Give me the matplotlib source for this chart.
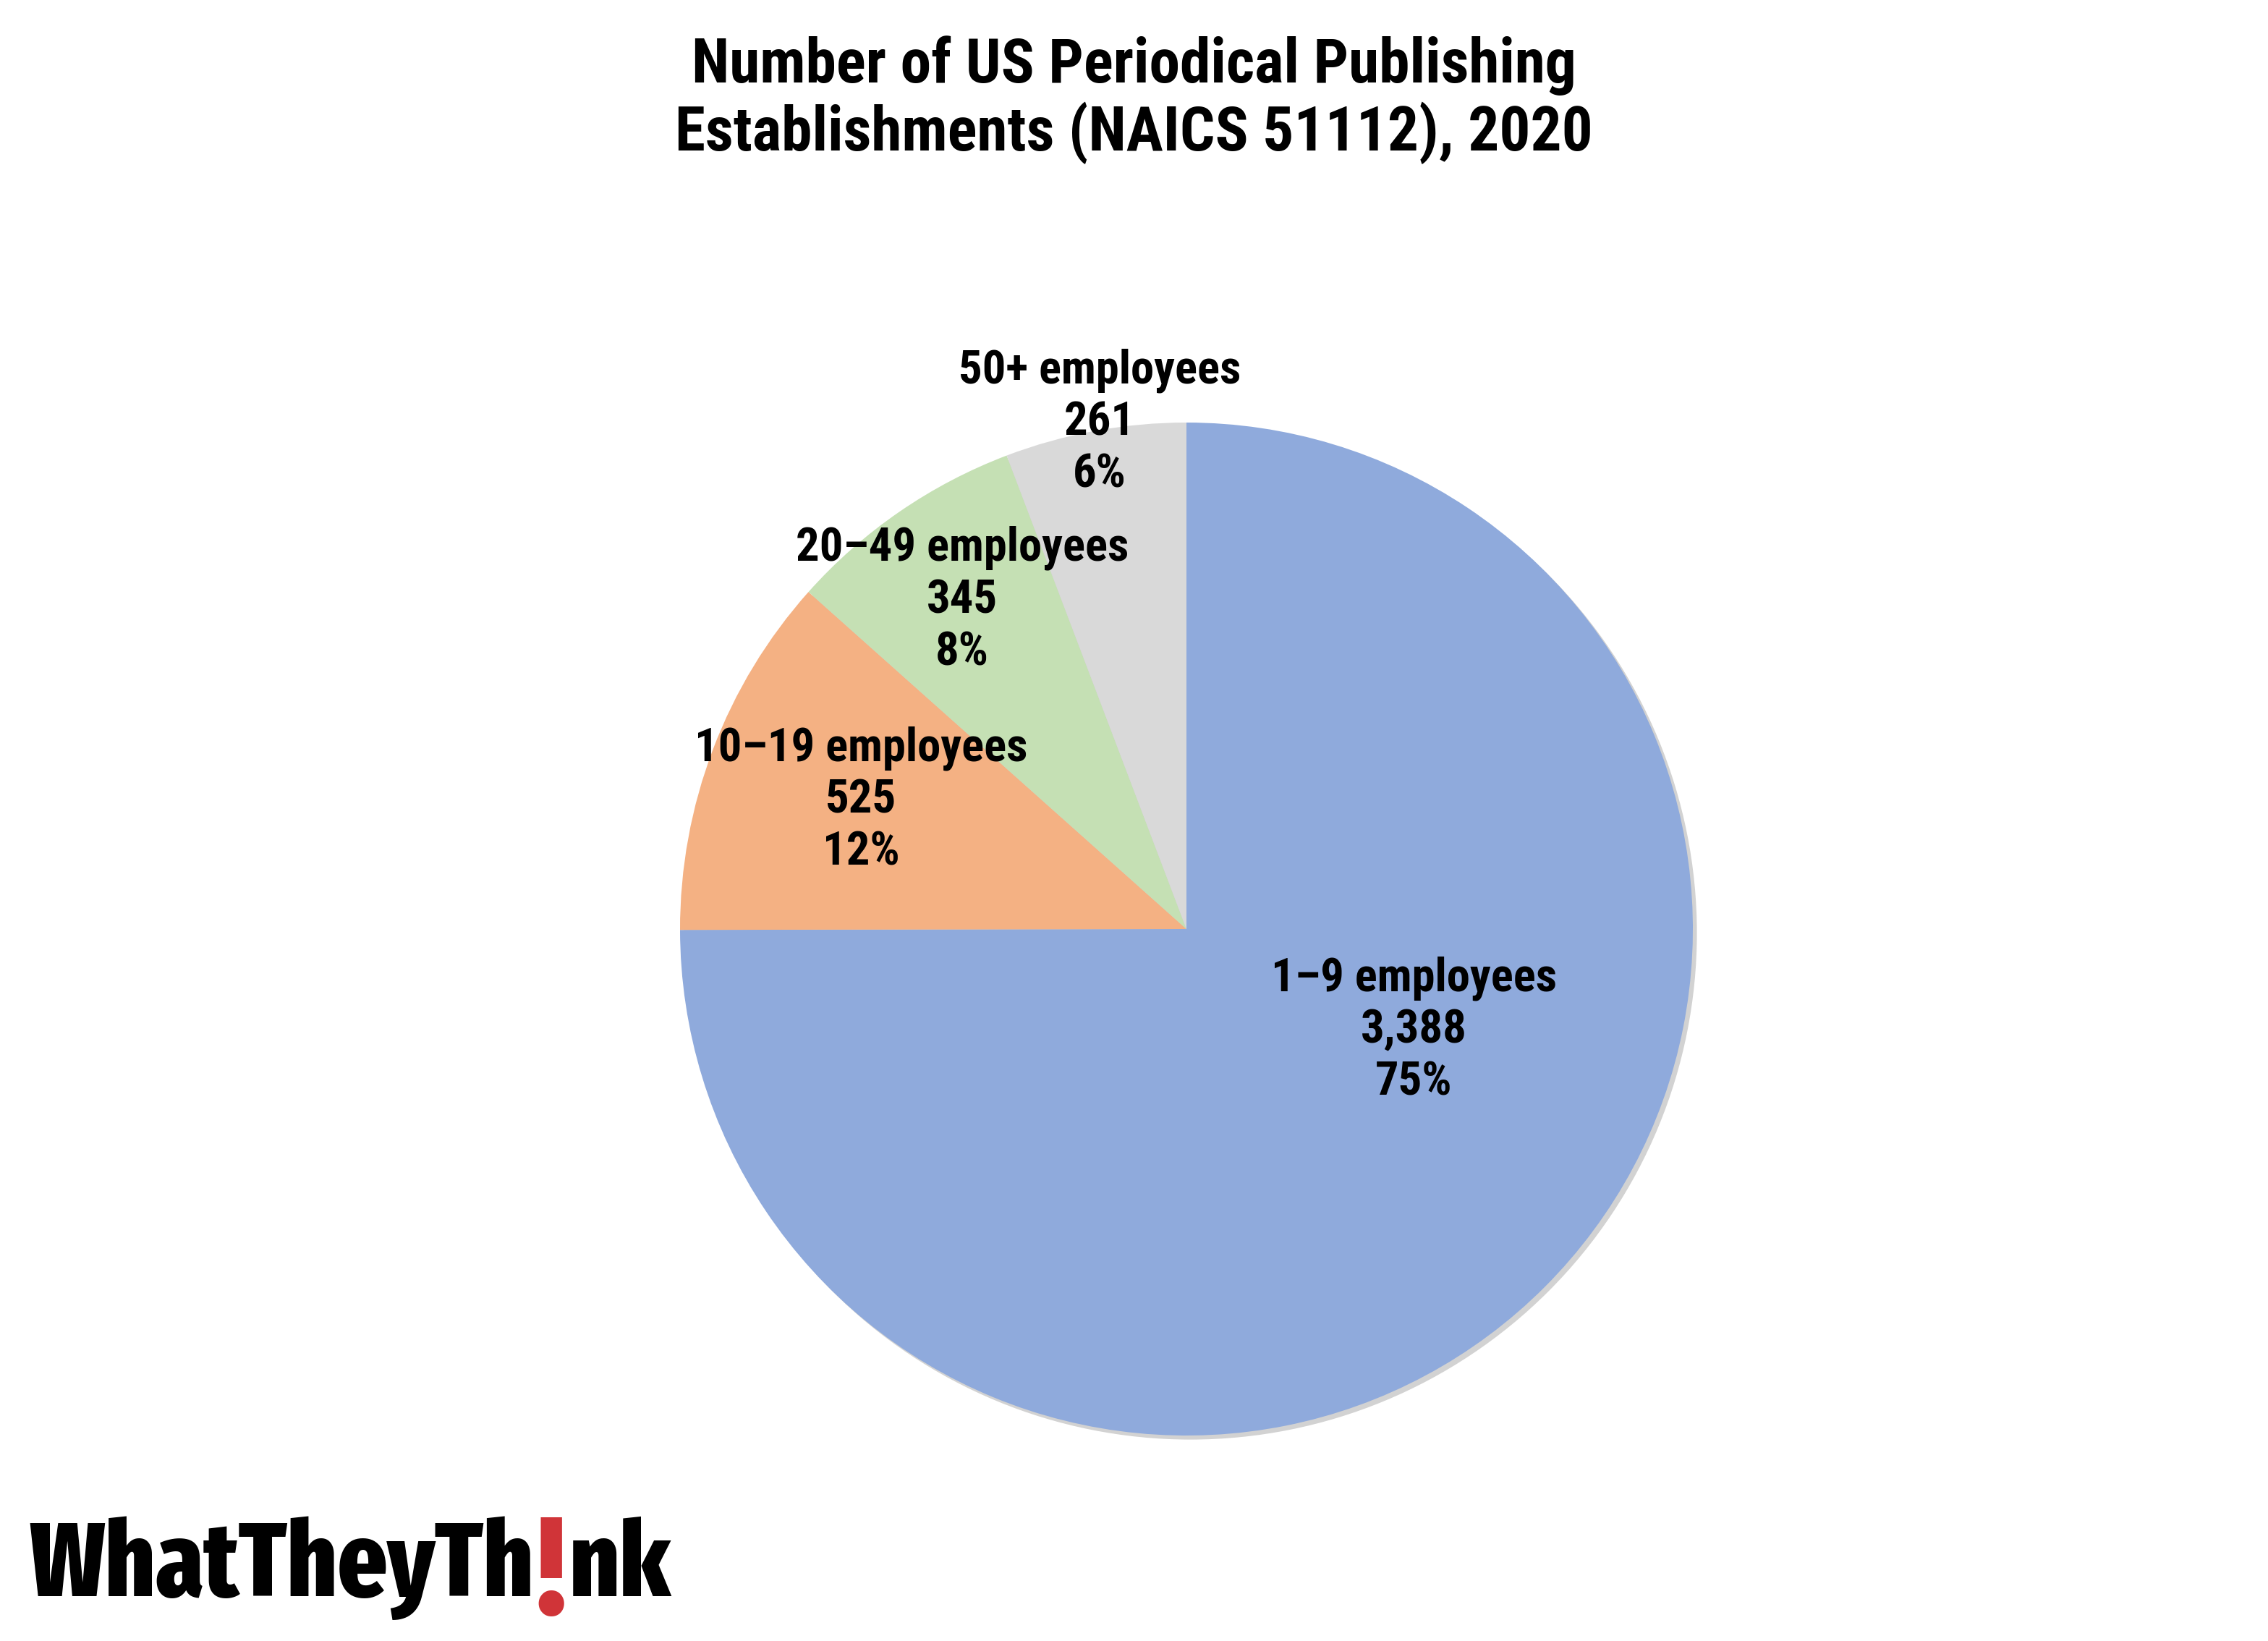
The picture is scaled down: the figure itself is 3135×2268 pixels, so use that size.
import matplotlib.pyplot as plt
from matplotlib.patches import Circle

# Data
categories = ['1\u20139 employees', '10\u201319 employees', '20\u201349 employees', '50+ employees']
counts = [3388, 525, 345, 261]
colors = ['#8FAADC', '#F4B183', '#C5E0B4', '#D9D9D9']

title = 'Number of US Periodical Publishing\nEstablishments (NAICS 51112), 2020'

plt.rcParams['font.family'] = ['Roboto Condensed', 'Liberation Sans', 'DejaVu Sans']
logo_font = ['Fira Sans Extra Condensed', 'Roboto Condensed', 'Liberation Sans', 'DejaVu Sans']

W, H = 3135, 2268
dpi = 300
fig = plt.figure(figsize=(W / dpi, H / dpi), dpi=dpi)

# pie axes: centre (1640, 1284) px, radius 700 px
cx, cy, r = 1640, 1284, 700
ax = fig.add_axes([(cx - r) / W, (H - cy - r) / H, 2 * r / W, 2 * r / H])

# soft shadow
ax.add_patch(Circle((0.008, -0.008), 1.0, color='#d2d2d2', zorder=0, lw=0, clip_on=False))
wedges, _ = ax.pie(counts, colors=colors, startangle=90, counterclock=False,
                   radius=1.0, wedgeprops=dict(linewidth=0))
for w in wedges:
    w.set_zorder(1)
    w.set_clip_on(False)
ax.set_xlim(-1, 1)
ax.set_ylim(-1, 1)
ax.set_aspect('equal')
ax.axis('off')

# label positions (data coords, pie radius = 1)
label_pos = [(0.449, -0.20), (-0.643, 0.254), (-0.443, 0.649), (-0.171, 1.0)]
total = sum(counts)
for cat, n, (lx, ly) in zip(categories, counts, label_pos):
    pct = round(100 * n / total)
    ax.text(lx, ly, f'{cat}\n{n:,}\n{pct}%', ha='center', va='center',
            fontsize=15.5, fontweight='bold', linespacing=1.23, zorder=3, clip_on=False)

# title
fig.text(0.5, 1 - 138 / H, title, ha='center', va='center', fontsize=20.5,
         fontweight='bold', linespacing=1.12)

# logo
fig.canvas.draw()
renderer = fig.canvas.get_renderer()
base_y = 1 - 2206 / H
t1 = fig.text(40 / W, base_y, 'WhatTheyTh', fontsize=35, fontweight=800, family=logo_font,
              ha='left', va='baseline', color='black')
bb = t1.get_window_extent(renderer)
t2 = fig.text(bb.x1 / W + 0.001, base_y - 0.011, '!', fontsize=46, fontweight=800,
              family=logo_font, ha='left', va='baseline', color='#D03438')
bb2 = t2.get_window_extent(renderer)
fig.text(bb2.x1 / W + 0.001, base_y, 'nk', fontsize=35, fontweight=800, family=logo_font,
         ha='left', va='baseline', color='black')

fig.savefig('out.png', dpi=dpi, facecolor='white')
